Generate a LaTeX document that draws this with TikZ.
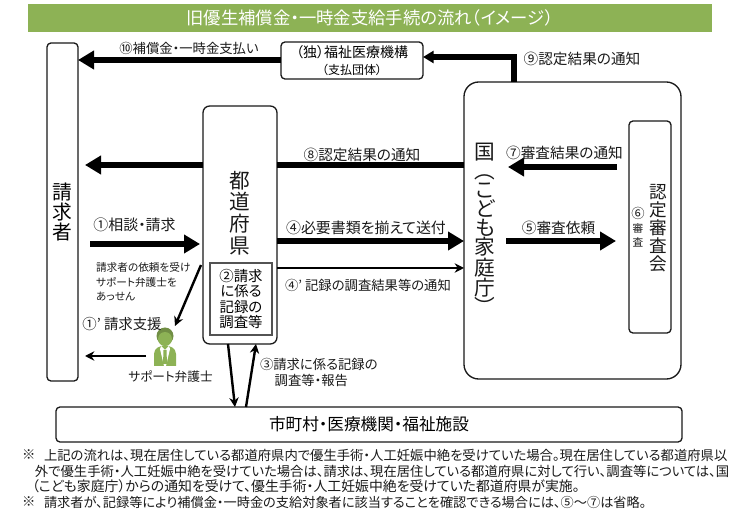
\documentclass[tikz,border=0pt]{standalone}
\usepackage{fontspec}
\setmainfont{Noto Sans CJK JP}[RawFeature={+palt}]
\usetikzlibrary{arrows.meta}
\definecolor{band}{HTML}{8DB255}
\definecolor{ink}{HTML}{1A1A1A}
\newcommand{\fs}[2]{\fontsize{#1}{#2}\selectfont}
\tikzset{
  box/.style={draw=ink,line width=1pt,rounded corners=3pt,fill=white,inner sep=0pt,outer sep=0pt,align=center},
  label/.style={inner sep=0pt,outer sep=0pt,text=ink,align=left},
  stack/.style={inner sep=0pt,outer sep=0pt,text=ink,align=center},
  fat/.style={line width=4.5pt,color=black},
  fatarrow/.style={fat,-{Triangle[length=12pt,width=13.5pt]}},
  slim/.style={line width=1.8pt,color=black,-{Stealth[length=7pt,width=7pt]}},
  note/.style={inner sep=0pt,outer sep=0pt,anchor=west,text=ink},
}
\begin{document}
\begin{tikzpicture}[x=0.75pt,y=-0.75pt]
\useasboundingbox[fill=white] (0,0) rectangle (740,513);
% title
\node[fill=band,text=white,minimum width=513pt,minimum height=21pt,inner sep=0pt,font=\fs{13}{14}] (title) at (370,18) {旧優生補償金・一時金支給手続の流れ（イメージ）};
% boxes
\node[box,minimum width=23.25pt,minimum height=253.5pt,font=\fs{14.8}{15.2}] (claimant) at (62.5,212) {請\\求\\者};
\node[box,minimum width=55.5pt,minimum height=178.5pt,rounded corners=5pt] (pref) at (240,225) {};
\node[box,draw=ink!75,minimum width=46.5pt,minimum height=54pt,rounded corners=0pt,line width=1.2pt,font=\fs{10.8}{11.7}] (survey) at (241,299) {②請求\\に係る\\記録の\\調査等};
\node[box,minimum width=106.5pt,minimum height=27.75pt,font=\fs{10.5}{13}] (wam) at (352,60.5) {（独）福祉医療機構\\{\fs{9}{13}（支払団体）}};
\node[box,minimum width=162.75pt,minimum height=222.75pt,rounded corners=11pt] (koku) at (572.5,230.5) {};
\node[box,minimum width=31.5pt,minimum height=159pt] (shinsa) at (650,227) {};
\node[box,minimum width=469.5pt,minimum height=26.25pt,font=\fs{12.5}{14}] (muni) at (369,424.5) {市町村・医療機関・福祉施設};
% stacked text
\node[stack,font=\fs{15.5}{16.3}] (prefname) at (240,213) {都\\道\\府\\県};
\node[stack,font=\fs{15.5}{14.2}] (kokuname) at (485,229) {国\\︵\\こ\\ど\\も\\家\\庭\\庁\\︶};
\node[stack,font=\fs{13.2}{13.4}] (shinsaname) at (658,228) {認\\定\\審\\査\\会};
\node[stack,font=\fs{8}{10.5}] (six) at (638,227) {{\fs{10}{10.5}⑥}\\審\\査};
% fat arrows
\draw[fatarrow] (wam.west |- 0,60) -- (claimant.east |- 0,60);
\draw[fat,-{Triangle[length=8pt,width=9pt]}] (514,0 |- koku.north) -- (514,57) -- (wam.east |- 0,57);
\draw[fat] (koku.west |- 0,165) -- (pref.east |- 0,165);
\coordinate (eightend) at (85,165);
\draw[fatarrow] (pref.west |- 0,165) -- (eightend);
\coordinate (sevenstart) at (617,167);
\coordinate (sevenend) at (508,167);
\draw[fatarrow] (sevenstart) -- (sevenend);
\draw[fatarrow] (pref.east |- 0,241) -- (koku.west |- 0,241);
\coordinate (fivestart) at (506,241);
\coordinate (fiveend) at (616,241);
\draw[fatarrow] (fivestart) -- (fiveend);
\coordinate (onestart) at (90,244);
\coordinate (oneend) at (200,244);
\draw[fatarrow] (onestart) -- (oneend);
% thin arrows
\draw[slim] (pref.east |- 0,268) -- (koku.west |- 0,268);
\coordinate (lawyertop) at (175,326);
\coordinate (lawyerleft) at (146,356);
\coordinate (refer) at (201,265);
\draw[slim] (refer) -- (lawyertop);
\draw[slim] (lawyerleft) -- (85,356);
\draw[slim] (228,0 |- pref.south) -- (235,0 |- muni.north);
\draw[slim] (246,0 |- muni.north) -- (256,0 |- pref.south);
% lawyer icon
\fill[band] (154,366) -- (154,354) .. controls (154,348) and (160,346) .. (165,345) .. controls (170,346) and (176,348) .. (176,354) -- (176,366) -- cycle;
\fill[band!80!black] (165,336) circle (8.5);
\fill[band] (165,339) circle (7);
\fill[white] (161,346) -- (165,350) -- (169,346) -- (170,349) -- (166,366) -- (164,366) -- (160,349) -- cycle;
\fill[band] (163.5,350) -- (166.5,350) -- (167,364) -- (163,364) -- cycle;
% labels
\node[label,font=\fs{10}{12}] (l10) at (189,48) {⑩補償金・一時金支払い};
\node[label,font=\fs{11}{13}] (l9) at (582,59) {⑨認定結果の通知};
\node[label,font=\fs{11}{13}] (l8) at (362,155) {⑧認定結果の通知};
\node[label,font=\fs{11}{13}] (l7) at (564.5,153) {⑦審査結果の通知};
\node[label,font=\fs{11.2}{13}] (l4) at (366,228) {④必要書類を揃えて送付};
\node[label,font=\fs{11}{13}] (l5) at (558.5,228) {⑤審査依頼};
\node[label,font=\fs{11.2}{13}] (l1) at (134.5,225) {①相談・請求};
\node[label,font=\fs{10}{12}] (l4p) at (368,285) {④’ 記録の調査結果等の通知};
\node[label,anchor=north west,font=\fs{10}{12}] (l3) at (260,358) {③請求に係る記録の\\\hspace*{11pt}調査等・報告};
\node[label,anchor=north west,font=\fs{8}{10.5}] (lreq) at (96,263) {請求者の依頼を受け\\サポート弁護士を\\あっせん};
\node[label,font=\fs{10.8}{13}] (l1p) at (122,324) {①’ 請求支援};
\node[label,font=\fs{9.5}{12}] (llawyer) at (170.5,377) {サポート弁護士};
% notes
\node[note,font=\fs{10}{12}] (n0) at (22,455) {※};
\node[note,font=\fs{10}{12}] (n1) at (44,455) {上記の流れは、現在居住している都道府県内で優生手術・人工妊娠中絶を受けていた場合。現在居住している都道府県以};
\node[note,font=\fs{10}{12}] (n2) at (35,471) {外で優生手術・人工妊娠中絶を受けていた場合は、請求は、現在居住している都道府県に対して行い、調査等については、国};
\node[note,font=\fs{10.4}{12}] (n3) at (32,486) {（こども家庭庁）からの通知を受けて、優生手術・人工妊娠中絶を受けていた都道府県が実施。};
\node[note,font=\fs{10}{12}] (n4) at (22,502) {※};
\node[note,font=\fs{9.9}{12}] (n5) at (44,502) {請求者が、記録等により補償金・一時金の支給対象者に該当することを確認できる場合には、⑤～⑦は省略。};
\end{tikzpicture}
\end{document}
